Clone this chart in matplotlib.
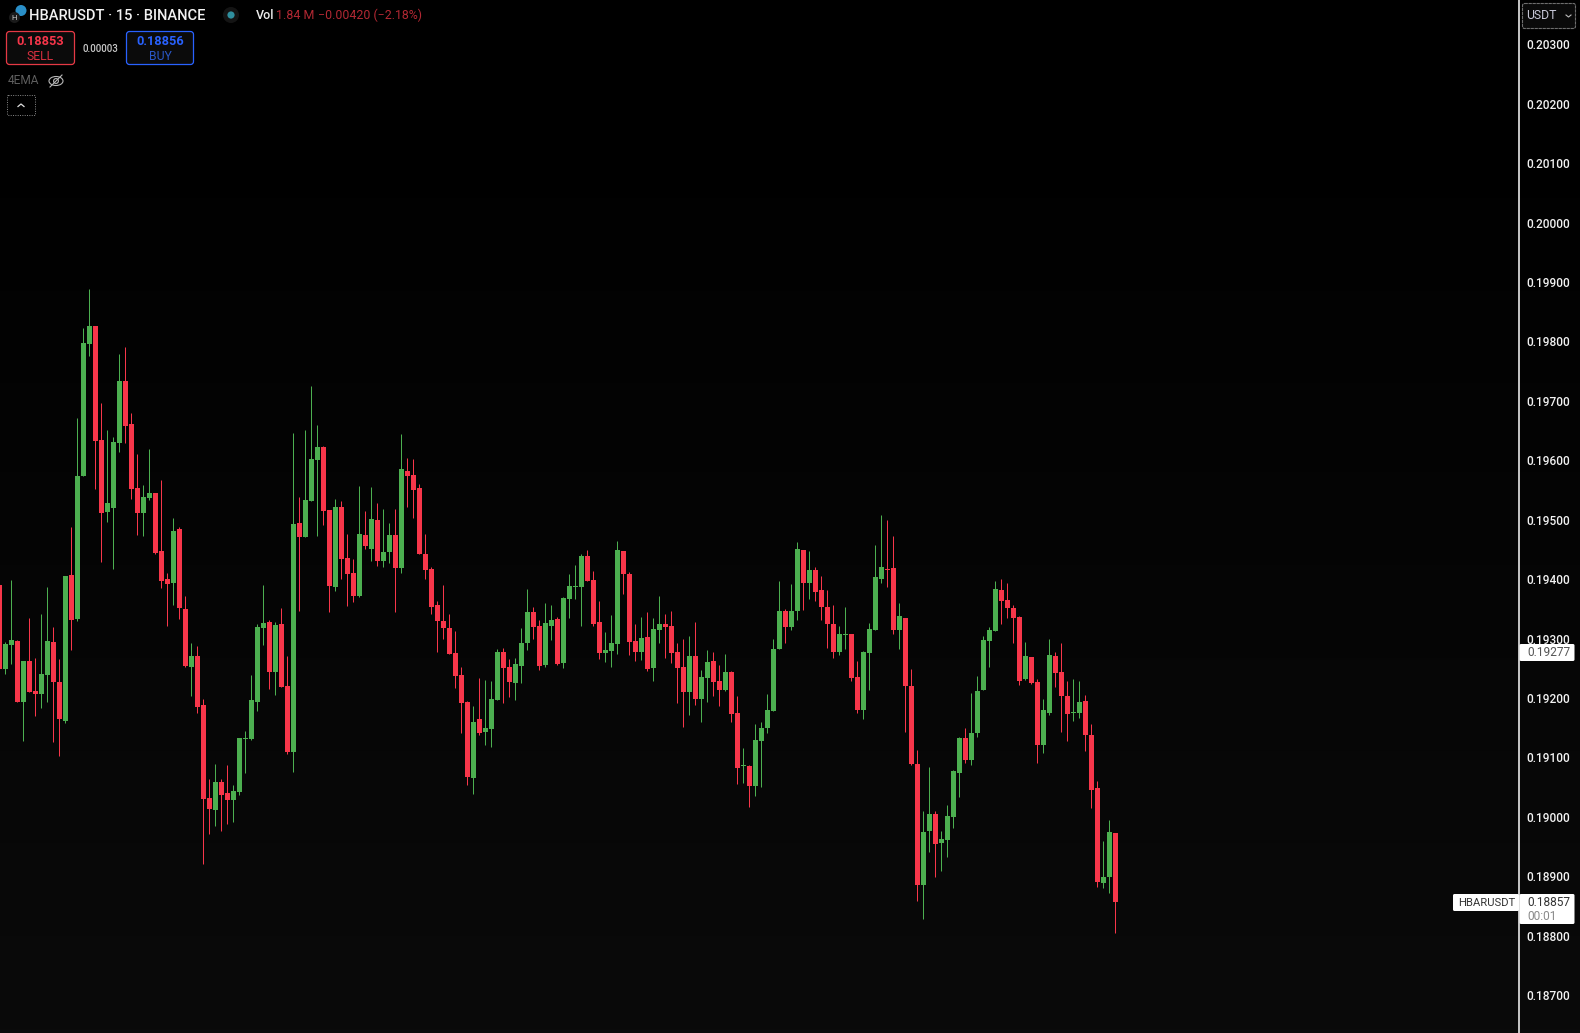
import numpy as np
import matplotlib
matplotlib.use("Agg")
import matplotlib.pyplot as plt
from matplotlib.patches import FancyBboxPatch, Circle, Ellipse

plt.rcParams['font.family'] = ['Roboto', 'DejaVu Sans']

# Prices in units of 0.00001 USDT, read candle by candle
opens = [19390,19249,19289,19296,19193,19262,19212,19207,19239,19294,19227,19161,19407,19333,19574,19795,19826,19634,19513,19520,
 19629,19733,19661,19553,19511,19536,19545,19447,19400,19394,19484,19350,19252,19271,19188,19032,19012,19059,19040,19028,
 19042,19131,19131,19193,19318,19328,19244,19325,19220,19109,19494,19471,19531,19600,19622,19516,19387,19521,19436,19410,
 19372,19474,19451,19500,19431,19446,19474,19419,19582,19575,19553,19442,19417,19356,19330,19318,19276,19239,19193,19065,
 19165,19143,19148,19197,19277,19252,19225,19254,19293,19345,19321,19255,19321,19333,19259,19367,19387,19387,19439,19399,
 19328,19276,19279,19291,19447,19409,19296,19277,19303,19250,19314,19325,19321,19277,19252,19210,19271,19198,19234,19262,
 19229,19213,19244,19175,19085,19086,19052,19128,19149,19178,19282,19346,19319,19346,19449,19394,19415,19382,19353,19325,
 19277,19306,19308,19235,19180,19276,19314,19400,19417,19419,19314,19335,19220,19089,18885,18976,19005,18956,18961,19000,
 19074,19133,19096,19141,19213,19296,19313,19382,19365,19351,19336,19232,19269,19227,19121,19175,19271,19244,19203,19175,
 19175,19195,19138,19049,18889,18899,18973]
highs = [19394,19294,19399,19298,19262,19335,19267,19341,19387,19319,19266,19405,19488,19671,19823,19888,19826,19696,19651,19639,
 19779,19791,19680,19611,19558,19619,19545,19567,19410,19503,19488,19372,19293,19288,19198,19064,19089,19064,19087,19054,
 19133,19144,19239,19325,19390,19331,19328,19351,19271,19646,19538,19651,19725,19659,19624,19516,19535,19531,19476,19434,
 19557,19515,19555,19528,19518,19494,19518,19644,19604,19602,19560,19476,19420,19363,19390,19341,19313,19252,19195,19187,
 19234,19230,19229,19282,19284,19266,19267,19318,19383,19353,19331,19360,19356,19336,19370,19409,19424,19442,19449,19414,
 19363,19311,19340,19464,19447,19412,19325,19336,19345,19335,19372,19341,19346,19293,19299,19304,19328,19247,19281,19277,
 19255,19274,19245,19203,19116,19087,19156,19160,19207,19299,19397,19350,19392,19462,19449,19447,19420,19405,19382,19356,
 19321,19353,19308,19262,19279,19326,19457,19508,19499,19473,19360,19335,19249,19112,19010,19084,19010,18976,19020,19079,
 19134,19149,19208,19237,19304,19319,19397,19400,19394,19356,19338,19294,19269,19232,19198,19299,19277,19293,19229,19232,
 19229,19205,19156,19060,18959,18995,18973]
lows = [19244,19241,19257,19193,19128,19210,19170,19183,19193,19126,19102,19158,19281,19330,19574,19775,19552,19429,19496,19417,
 19614,19629,19535,19474,19473,19533,19442,19385,19321,19356,19333,19252,19203,19175,18921,18971,18985,18976,18988,18991,
 19037,19074,19129,19178,19289,19215,19205,19218,19106,19075,19346,19471,19531,19473,19491,19345,19380,19400,19355,19362,
 19370,19451,19431,19422,19420,19427,19345,19410,19521,19503,19442,19400,19341,19277,19299,19274,19217,19141,19054,19038,
 19138,19121,19117,19197,19191,19202,19197,19225,19281,19299,19247,19252,19298,19255,19250,19335,19367,19321,19397,19321,
 19266,19261,19252,19274,19375,19272,19262,19264,19245,19229,19293,19267,19259,19191,19151,19171,19188,19160,19193,19203,
 19187,19212,19160,19055,19057,19017,19035,19050,19141,19178,19282,19293,19314,19331,19348,19367,19363,19331,19284,19267,
 19272,19282,19229,19175,19165,19213,19314,19394,19387,19308,19282,19143,19087,18858,18828,18941,18899,18909,18932,18981,
 19033,19091,19087,19134,19213,19252,19313,19325,19335,19293,19222,19230,19224,19091,19107,19171,19218,19143,19128,19161,
 19166,19111,19015,18882,18880,18872,18805]
closes = [19249,19291,19298,19193,19262,19210,19207,19241,19296,19227,19165,19405,19331,19574,19797,19826,19632,19511,19528,19631,
 19733,19658,19552,19511,19538,19545,19444,19397,19392,19481,19351,19254,19271,19185,19030,19013,19059,19037,19028,19043,
 19133,19133,19197,19319,19326,19244,19323,19218,19109,19493,19471,19533,19602,19622,19515,19388,19521,19434,19409,19372,
 19476,19456,19501,19431,19446,19474,19419,19585,19574,19550,19442,19415,19353,19330,19318,19274,19237,19191,19067,19160,
 19141,19149,19198,19277,19250,19227,19257,19293,19345,19319,19254,19326,19331,19257,19368,19388,19389,19439,19397,19325,
 19276,19281,19293,19449,19409,19294,19277,19301,19249,19316,19325,19319,19276,19250,19210,19271,19198,19235,19261,19227,
 19213,19244,19173,19082,19087,19052,19129,19149,19180,19282,19346,19319,19346,19451,19394,19415,19378,19353,19325,19277,
 19308,19308,19234,19180,19277,19316,19404,19420,19415,19314,19338,19220,19089,18885,18974,19005,18954,18963,19001,19077,
 19133,19096,19141,19212,19298,19314,19383,19363,19351,19335,19229,19271,19225,19121,19180,19272,19242,19203,19173,19177,
 19193,19138,19045,18890,18899,18974,18857]

price_ticks = [0.187,0.188,0.189,0.190,0.191,0.192,0.193,0.194,0.195,0.196,0.197,0.198,0.199,0.200,0.201,0.202,0.203]
symbol_title = "HBARUSDT · 15 · BINANCE"
vol_text = "1.84 M"
change_text = "−0.00420 (−2.18%)"
sell_price, buy_price, spread = "0.18853", "0.18856", "0.00003"
last_close_label, last_price_label, countdown = "0.19277", "0.18857", "00:01"

GREEN, RED = "#4CAF50", "#F7364A"
W, H = 1580, 1033
PANE_W = 1518.5

fig = plt.figure(figsize=(W/100, H/100), dpi=100, facecolor="#000000")

# background gradient
bg = fig.add_axes([0, 0, 1, 1], zorder=0)
bg.axis("off")
grad = np.clip((np.linspace(0, 1, 256) - 0.1) / 0.9, 0, 1)[:, None]
bg.imshow(grad * 10 / 255, cmap="gray", vmin=0, vmax=1, aspect="auto", extent=(0, 1, 0, 1))

ax = fig.add_axes([0, 0, PANE_W/W, 1], zorder=1)
ax.patch.set_alpha(0)
o, h, l, c = [np.array(a) / 1e5 for a in (opens, highs, lows, closes)]
x = np.arange(len(o))
cols = [GREEN if cc >= oo else RED for oo, cc in zip(o, c)]
ax.vlines(x, l, h, colors=cols, linewidth=0.72, zorder=2)
ax.bar(x, np.abs(c - o), bottom=np.minimum(o, c), width=5/6, color=cols, linewidth=0, zorder=3)

ax.set_xlim((0 + 0.667)/6, (PANE_W + 0.667)/6)
ax.set_ylim(0.186363, 0.203745)
ax.set_xticks([])
ax.yaxis.tick_right()
ax.set_yticks(price_ticks)
ax.set_yticklabels([f"{t:.5f}" for t in price_ticks], fontsize=8.6, color="#F2F2F2", fontweight="medium")
ax.tick_params(axis="y", length=0, pad=6)
for s in ("top", "left", "bottom"):
    ax.spines[s].set_visible(False)
ax.spines["right"].set_color("#E8E8E8")
ax.spines["right"].set_linewidth(1.2)

# overlay in pixel coordinates for the interface elements
ui = fig.add_axes([0, 0, 1, 1], zorder=5)
ui.set_xlim(0, W); ui.set_ylim(H, 0); ui.axis("off"); ui.patch.set_alpha(0)

def box(x0, y0, x1, y1, ec, fc="#0B0B0B", lw=0.9, ls="-", r=3):
    ui.add_patch(FancyBboxPatch((x0, y0), x1-x0, y1-y0, boxstyle=f"round,pad=0,rounding_size={r}",
                                ec=ec, fc=fc, lw=lw, ls=ls))

# logo
ui.add_patch(Circle((21, 10.5), 5.5, fc="#2A8FC8", ec="none"))
ui.add_patch(Circle((14.5, 17.5), 5.5, fc="#1A1A1A", ec="none"))
ui.text(14.5, 17.5, "H", color="#D0D0D0", fontsize=5.5, ha="center", va="center")
ui.text(29, 15.5, symbol_title, color="#F2F2F2", fontsize=10.5, fontweight="medium", va="center", ha="left")
ui.add_patch(Circle((231, 15), 8, fc="#141414", ec="none"))
ui.add_patch(Circle((231, 15), 3.6, fc="#2F8F9E", ec="none"))
ui.text(256, 15.5, "Vol", color="#EDEDED", fontsize=9, fontweight="medium", va="center", ha="left")
ui.text(275.5, 15.5, vol_text, color="#B22833", fontsize=9, va="center", ha="left")
ui.text(317.5, 15.5, change_text, color="#B22833", fontsize=8.9, va="center", ha="left")

# sell / buy
box(6.5, 31.5, 74.5, 64.5, "#E53945")
box(126.5, 31.5, 193.5, 64.5, "#2962FF")
ui.text(40.5, 41.5, sell_price, color="#F7364A", fontsize=9.2, fontweight="bold", ha="center", va="center")
ui.text(40.5, 56, "SELL", color="#D8303F", fontsize=8.8, ha="center", va="center")
ui.text(100, 48.5, spread, color="#C8C8C8", fontsize=7, fontweight="medium", ha="center", va="center")
ui.text(160, 41.5, buy_price, color="#2962FF", fontsize=9.2, fontweight="bold", ha="center", va="center")
ui.text(160, 56, "BUY", color="#2A58C8", fontsize=8.8, ha="center", va="center")

# indicator row
ui.text(8, 81, "4EMA", color="#5E5E5E", fontsize=8.6, ha="left", va="center")
ui.add_patch(Ellipse((56, 81), 14, 9, fc="none", ec="#B8B8B8", lw=0.8))
ui.add_patch(Circle((56, 81), 2.4, fc="none", ec="#B8B8B8", lw=0.8))
ui.plot([50, 62], [87, 75], color="#B8B8B8", lw=0.8)
box(7.5, 95.5, 35.5, 115.5, "#8A8A8A", fc="none", lw=0.7, ls=(0, (1, 1.4)), r=1)
ui.plot([18, 21, 24], [106.5, 104, 106.5], color="#E0E0E0", lw=0.9)

# currency selector
box(1522.5, 3.5, 1575.5, 28.5, "#6E6E6E", fc="#0A0A0A", lw=0.8, ls=(0, (3, 0.6)), r=2)
ui.text(1526, 15.5, "USDT", color="#C8C8D8", fontsize=8.8, ha="left", va="center")
ui.plot([1566, 1568.5, 1571], [15, 17, 15], color="#BDBDBD", lw=0.8)

# price labels
ui.add_patch(FancyBboxPatch((1519.5, 644), 55, 17, boxstyle="round,pad=0,rounding_size=1.5", fc="#FFFFFF", ec="none"))
ui.text(1527, 653, last_close_label, color="#555555", fontsize=8.6, ha="left", va="center")
ui.add_patch(FancyBboxPatch((1453, 894), 66, 17, boxstyle="round,pad=0,rounding_size=1.5", fc="#FFFFFF", ec="none"))
ui.text(1458, 902.5, "HBARUSDT", color="#333333", fontsize=8.1, ha="left", va="center")
ui.add_patch(FancyBboxPatch((1519.5, 894), 55, 30, boxstyle="round,pad=0,rounding_size=1.5", fc="#FFFFFF", ec="none"))
ui.text(1527, 902.5, last_price_label, color="#333333", fontsize=8.6, ha="left", va="center")
ui.text(1527, 917, countdown, color="#8A8A8A", fontsize=8.6, ha="left", va="center")

fig.savefig("out.png", dpi=100, facecolor="#000000")
